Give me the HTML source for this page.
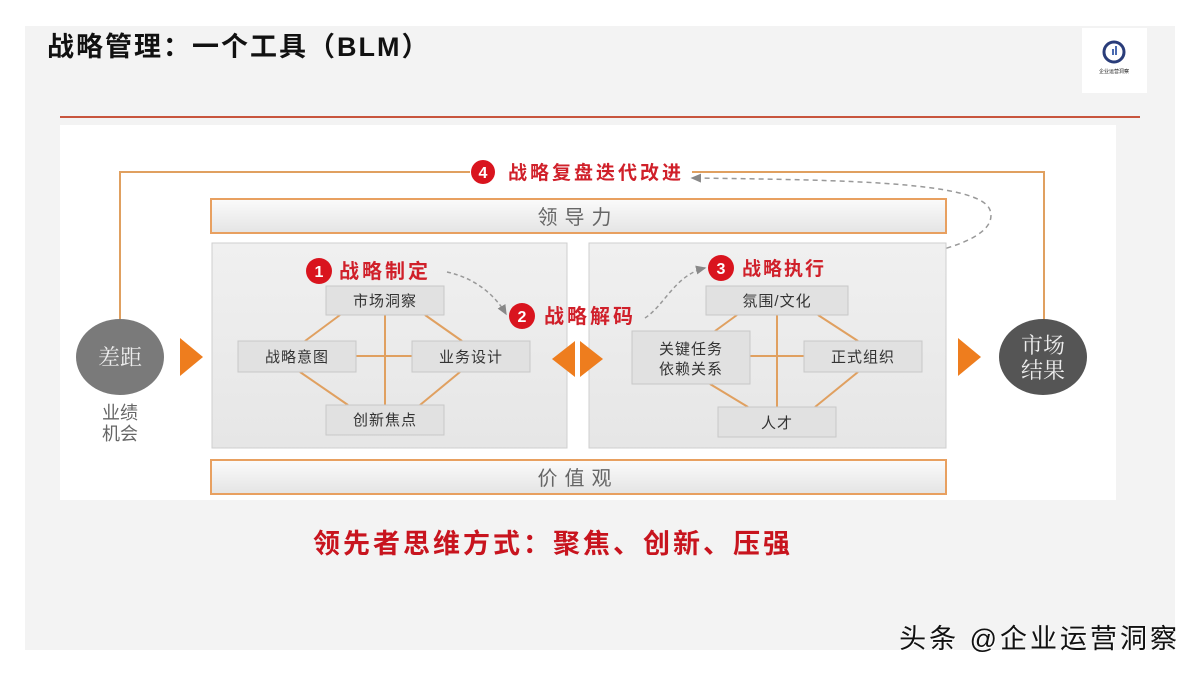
<!DOCTYPE html>
<html><head><meta charset="utf-8"><style>
html,body{margin:0;padding:0;background:#fff;width:1200px;height:675px;overflow:hidden}
body{position:relative;font-family:"Liberation Sans","Noto Sans CJK SC",sans-serif}
</style></head><body>
<div style="position:absolute;left:25px;top:26px;width:1150px;height:624px;background:#f3f3f3"></div>
<div style="position:absolute;left:47px;top:25px;font-size:27px;letter-spacing:2px;font-weight:bold;color:#111;font-family:'Liberation Sans','Noto Sans CJK SC',sans-serif">战略管理：一个工具（BLM）</div>
<div style="position:absolute;left:1082px;top:28px;width:65px;height:65px;background:#fff"></div>
<svg style="position:absolute;left:0;top:0" width="1200" height="675" viewBox="0 0 1200 675" font-family="Liberation Sans, Noto Sans CJK SC, sans-serif">
<defs>
<linearGradient id="bar" x1="0" y1="0" x2="0" y2="1"><stop offset="0" stop-color="#fbfbfb"/><stop offset="1" stop-color="#e4e4e4"/></linearGradient>
<linearGradient id="pan" x1="0" y1="0" x2="0" y2="1"><stop offset="0" stop-color="#f0f0f0"/><stop offset="1" stop-color="#e6e6e6"/></linearGradient>
<marker id="ah" markerWidth="8" markerHeight="8" refX="6" refY="4" orient="auto"><path d="M0,1 L7,4 L0,7 Z" fill="#888"/></marker>
</defs>
<circle cx="1114" cy="52" r="10" fill="none" stroke="#2a3d7a" stroke-width="3"/>
<rect x="1112" y="49" width="2" height="6" fill="#4a6ab0"/><rect x="1115" y="46" width="2" height="9" fill="#4a6ab0"/>
<text x="1114" y="73" font-size="5" text-anchor="middle" fill="#222">企业运营洞察</text>
<line x1="60" y1="117" x2="1140" y2="117" stroke="#c8553d" stroke-width="2"/>
<rect x="60" y="125" width="1056" height="375" fill="#fff"/>
<polyline points="470,172 120,172 120,328" fill="none" stroke="#e0a060" stroke-width="2"/>
<path d="M114,326 L126,326 L120,336 Z" fill="#e0a060"/>
<polyline points="692,172 1044,172 1044,320" fill="none" stroke="#e0a060" stroke-width="2"/>
<circle cx="483" cy="172" r="12" fill="#d9141e"/>
<text x="483" y="178" font-size="16" font-weight="bold" fill="#fff" text-anchor="middle">4</text>
<text x="508" y="179" font-size="19" font-weight="bold" fill="#d0202a" letter-spacing="3">战略复盘迭代改进</text>
<path d="M840,266 C930,258 1000,240 990,210 C980,182 850,180 692,178" fill="none" stroke="#999" stroke-width="1.5" stroke-dasharray="5,4" marker-end="url(#ah)"/>
<rect x="211" y="199" width="735" height="34" fill="url(#bar)" stroke="#e8a060" stroke-width="2"/>
<text x="578" y="224" font-size="20" fill="#666" text-anchor="middle" letter-spacing="7">领导力</text>
<rect x="211" y="460" width="735" height="34" fill="url(#bar)" stroke="#e8a060" stroke-width="2"/>
<text x="578" y="485" font-size="20" fill="#666" text-anchor="middle" letter-spacing="7">价值观</text>
<rect x="212" y="243" width="355" height="205" fill="url(#pan)" stroke="#cfcfcf"/>
<rect x="589" y="243" width="357" height="205" fill="url(#pan)" stroke="#cfcfcf"/>
<g stroke="#e0a060" stroke-width="2" fill="none">
<line x1="385" y1="315" x2="385" y2="405"/><line x1="356" y1="356" x2="412" y2="356"/>
<line x1="340" y1="315" x2="305" y2="341"/><line x1="425" y1="315" x2="462" y2="341"/>
<line x1="300" y1="372" x2="348" y2="405"/><line x1="460" y1="372" x2="420" y2="405"/>
<line x1="777" y1="315" x2="777" y2="407"/><line x1="750" y1="356" x2="804" y2="356"/>
<line x1="737" y1="315" x2="715" y2="331"/><line x1="818" y1="315" x2="858" y2="341"/>
<line x1="710" y1="384" x2="748" y2="407"/><line x1="858" y1="372" x2="815" y2="407"/>
</g>
<g fill="#e1e1e1" stroke="#c8c8c8">
<rect x="326" y="286" width="118" height="29"/><rect x="238" y="341" width="118" height="31"/>
<rect x="412" y="341" width="118" height="31"/><rect x="326" y="405" width="118" height="30"/>
<rect x="706" y="286" width="142" height="29"/><rect x="632" y="331" width="118" height="53"/>
<rect x="804" y="341" width="118" height="31"/><rect x="718" y="407" width="118" height="30"/>
</g>
<g font-size="15" fill="#333" text-anchor="middle" letter-spacing="1">
<text x="385" y="306">市场洞察</text><text x="297" y="362">战略意图</text>
<text x="471" y="362">业务设计</text><text x="385" y="425">创新焦点</text>
<text x="777" y="306">氛围/文化</text><text x="691" y="354">关键任务</text><text x="691" y="374">依赖关系</text>
<text x="863" y="362">正式组织</text><text x="777" y="428">人才</text>
</g>
<circle cx="319" cy="271" r="13" fill="#d9141e"/><text x="319" y="277" font-size="16" font-weight="bold" fill="#fff" text-anchor="middle">1</text>
<text x="339" y="278" font-size="20" font-weight="bold" fill="#d0202a" letter-spacing="3">战略制定</text>
<circle cx="522" cy="316" r="13" fill="#d9141e"/><text x="522" y="322" font-size="16" font-weight="bold" fill="#fff" text-anchor="middle">2</text>
<text x="544" y="323" font-size="20" font-weight="bold" fill="#d0202a" letter-spacing="3">战略解码</text>
<circle cx="721" cy="268" r="13" fill="#d9141e"/><text x="721" y="274" font-size="16" font-weight="bold" fill="#fff" text-anchor="middle">3</text>
<text x="742" y="275" font-size="19" font-weight="bold" fill="#d0202a" letter-spacing="2">战略执行</text>
<path d="M447,272 C475,278 495,295 506,314" fill="none" stroke="#999" stroke-width="1.5" stroke-dasharray="4,3" marker-end="url(#ah)"/>
<path d="M645,318 C665,305 675,275 705,268" fill="none" stroke="#999" stroke-width="1.5" stroke-dasharray="4,3" marker-end="url(#ah)"/>
<ellipse cx="120" cy="357" rx="44" ry="38" fill="#7a7a7a"/>
<text x="120" y="365" font-size="22" fill="#eee" text-anchor="middle" font-family="Noto Serif CJK SC, serif">差距</text>
<text x="120" y="419" font-size="18" fill="#666" text-anchor="middle">业绩</text>
<text x="120" y="440" font-size="18" fill="#666" text-anchor="middle">机会</text>
<path d="M180,338 L203,357 L180,376 Z" fill="#ee7d1e"/>
<path d="M575,341 L552,359 L575,377 Z" fill="#ee7d1e"/>
<path d="M580,341 L603,359 L580,377 Z" fill="#ee7d1e"/>
<path d="M958,338 L981,357 L958,376 Z" fill="#ee7d1e"/>
<ellipse cx="1043" cy="357" rx="44" ry="38" fill="#555"/>
<text x="1043" y="353" font-size="22" fill="#eee" text-anchor="middle" font-family="Noto Serif CJK SC, serif">市场</text>
<text x="1043" y="378" font-size="22" fill="#eee" text-anchor="middle" font-family="Noto Serif CJK SC, serif">结果</text>
<text x="553" y="553" font-size="27" font-weight="bold" fill="#c8141e" text-anchor="middle" letter-spacing="3">领先者思维方式：聚焦、创新、压强</text>
<text x="1180" y="648" font-size="27" fill="#fff" text-anchor="end" letter-spacing="3" transform="translate(1,1)">头条 @企业运营洞察</text>
<text x="1180" y="648" font-size="27" fill="#111" text-anchor="end" letter-spacing="3">头条 @企业运营洞察</text>
</svg>
</body></html>
